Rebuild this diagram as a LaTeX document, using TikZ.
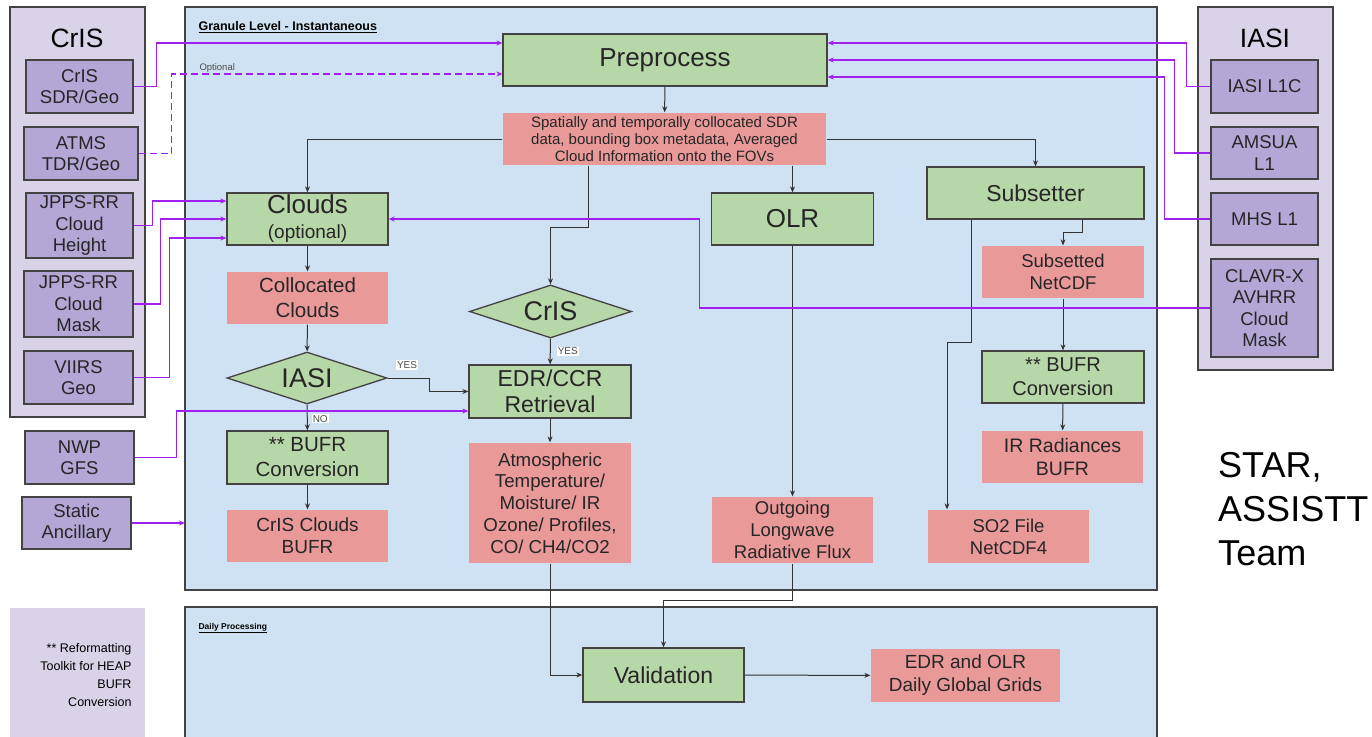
\documentclass[tikz,border=0pt]{standalone}
\usepackage{fontspec}
\setmainfont{Liberation Sans}
\usetikzlibrary{calc,shapes.geometric,arrows.meta}

\definecolor{panelpurple}{HTML}{D9D2E9}
\definecolor{srcpurple}{HTML}{B4A7D6}
\definecolor{granblue}{HTML}{CFE2F3}
\definecolor{procgreen}{HTML}{B6D7A8}
\definecolor{outpink}{HTML}{EA9999}
\definecolor{edgegray}{HTML}{434343}
\definecolor{feedpurple}{HTML}{A020F0}

\begin{document}
\begin{tikzpicture}[x=1pt, y=-1pt,
        plainbox/.style={draw=edgegray, line width=1.3pt, inner sep=1pt, align=center, text=black!85},
        wh/.style 2 args={minimum width=#1pt, minimum height=#2pt},
        srcbox/.style={plainbox, fill=srcpurple, font=\fontsize{18.5}{21.5}\selectfont},
        procbox/.style={plainbox, fill=procgreen, font=\fontsize{20.5}{25}\selectfont},
        outbox/.style={plainbox, draw=none, fill=outpink, font=\fontsize{18.5}{22}\selectfont},
        decision/.style={plainbox, diamond, aspect=3, fill=procgreen, inner sep=0pt, font=\fontsize{27}{30}\selectfont},
        panel/.style={draw=edgegray, line width=1.3pt},
        flow/.style={draw=black!80, line width=1pt, -{Stealth[length=6pt,width=5pt]}},
        feed/.style={draw=feedpurple, line width=1.4pt, -{Stealth[length=6pt,width=5pt]}},
        answer/.style={fill=white, inner sep=1pt, font=\fontsize{10}{11}\selectfont, text=black!70}]
        \useasboundingbox (0,0) rectangle (1372,736);

        % panels
        \draw[panel, fill=panelpurple] (10,7) rectangle (145,417);
        \draw[panel, fill=panelpurple] (1198,7) rectangle (1333,370);
        \draw[panel, fill=granblue] (185,7) rectangle (1157,590);
        \draw[panel, fill=granblue] (185,607) rectangle (1157,760);
        \fill[panelpurple] (10,608) rectangle (145,745);

        \node[font=\fontsize{26.5}{30}\selectfont] (crisT) at (77,38) {CrIS};
        \node[font=\fontsize{26.5}{30}\selectfont] (iasiT) at (1265,38) {IASI};
        \node[anchor=west, font=\bfseries\fontsize{12.5}{14}\selectfont] (granT) at (195,27) {\underline{Granule Level - Instantaneous}};
        \node[anchor=west, font=\bfseries\fontsize{8.5}{10}\selectfont] (dailyT) at (195,628) {\underline{Daily Processing}};
        \node[anchor=west, font=\fontsize{9.5}{10}\selectfont, text=black!70] (optT) at (196,68) {Optional};
        \node[anchor=east, align=right, font=\fontsize{12.5}{18}\selectfont] (note) at (135,675) {** Reformatting\\Toolkit for HEAP\\BUFR\\Conversion};
        \node[anchor=north west, inner sep=0pt, align=left, font=\fontsize{36}{44}\selectfont] (team) at (1218,452) {STAR,\\ASSISTT\\Team};

        % inputs
        \node[srcbox, wh={107}{53}] (sdr) at (79.5,86.5) {CrIS\\SDR/Geo};
        \node[srcbox, wh={114}{53}] (atms) at (81,153.5) {ATMS\\TDR/Geo};
        \node[srcbox, wh={107}{65}] (jhgt) at (79.5,225.5) {JPPS-RR\\Cloud\\Height};
        \node[srcbox, wh={109}{66}] (jmask) at (78.5,304) {JPPS-RR\\Cloud\\Mask};
        \node[srcbox, wh={109}{53}] (viirs) at (78.5,377.5) {VIIRS\\Geo};
        \node[srcbox, wh={109}{53}] (nwp) at (79.5,457.5) {NWP\\GFS};
        \node[srcbox, wh={109}{52}] (static) at (76.5,523) {Static\\Ancillary};
        \node[srcbox, wh={107}{53}] (l1c) at (1264.5,86.5) {IASI L1C};
        \node[srcbox, wh={107}{52}] (amsua) at (1264.5,153) {AMSUA\\L1};
        \node[srcbox, wh={107}{52}] (mhs) at (1264.5,219) {MHS L1};
        \node[srcbox, wh={107}{98}] (clavr) at (1264.5,308) {CLAVR-X\\AVHRR\\Cloud\\Mask};
        \coordinate (gleft) at (185,523);

        % granule level
        \node[procbox, wh={324}{52}, font=\fontsize{26}{28}\selectfont] (prep) at (665,60) {Preprocess};
        \node[outbox, wh={323}{52}, font=\fontsize{15}{17}\selectfont] (spat) at (664.5,139) {Spatially and temporally collocated SDR\\data, bounding box metadata, Averaged\\Cloud Information onto the FOVs};
        \node[procbox, wh={161}{52}] (clouds) at (307.5,219) {{\fontsize{26}{26}\selectfont Clouds}\\{\fontsize{19}{21}\selectfont (optional)}};
        \node[outbox, wh={161}{52}, font=\fontsize{20.5}{25}\selectfont] (coll) at (307.5,298) {Collocated\\Clouds};
        \node[decision, minimum width=160pt, minimum height=52pt] (iasiD) at (307,378) {IASI};
        \node[procbox, wh={161}{53}] (bufrL) at (307.5,457.5) {** BUFR\\Conversion};
        \node[outbox, wh={161}{52}, font=\fontsize{19}{22}\selectfont] (crisbufr) at (307.5,536) {CrIS Clouds\\BUFR};
        \node[decision, minimum width=162pt, minimum height=53pt] (crisD) at (550.5,311.5) {CrIS};
        \node[procbox, wh={162}{53}, font=\fontsize{23}{26}\selectfont] (edr) at (550,391.5) {EDR/CCR\\Retrieval};
        \node[outbox, wh={162}{120}, font=\fontsize{18.7}{21.7}\selectfont] (atmo) at (550,503) {Atmospheric\\Temperature/\\Moisture/ IR\\Ozone/ Profiles,\\CO/ CH4/CO2};
        \node[procbox, wh={162}{52}, font=\fontsize{26}{28}\selectfont] (olr) at (792.5,219) {OLR};
        \node[outbox, wh={161}{66}] (outg) at (792.5,530) {Outgoing\\Longwave\\Radiative Flux};
        \node[procbox, wh={217}{52}, font=\fontsize{23}{26}\selectfont] (subs) at (1035.5,193) {Subsetter};
        \node[outbox, wh={162}{52}] (subnc) at (1063,272) {Subsetted\\NetCDF};
        \node[procbox, wh={162}{52}, font=\fontsize{20}{24}\selectfont] (bufrR) at (1063,377) {** BUFR\\Conversion};
        \node[outbox, wh={161}{52}, font=\fontsize{19.5}{22.5}\selectfont] (irrad) at (1062.5,457) {IR Radiances\\BUFR};
        \node[outbox, wh={161}{53}] (so2) at (1008.5,536.5) {SO2 File\\NetCDF4};

        % daily processing
        \node[procbox, wh={161}{54}, font=\fontsize{23}{26}\selectfont] (valid) at (663.5,675) {Validation};
        \node[outbox, wh={189}{53}, font=\fontsize{19}{23}\selectfont] (grids) at (965.5,675.5) {EDR and OLR\\Daily Global Grids};

        \draw[flow] (prep) -- (spat);
        \draw[flow] (spat.west) -| (clouds.north);
        \draw[flow] (spat.east) -| (subs.north);
        \draw[flow] (spat.south -| olr.north) -- (olr.north);
        \draw[flow] ($(spat.south)+(-76.5,0)$) -- ++(0,62) -| (crisD.north);
        \draw[flow] (clouds) -- (coll);
        \draw[flow] (coll) -- (iasiD);
        \draw[flow] (iasiD) -- node[answer, pos=0.55, right=4pt] (noT) {NO} (bufrL);
        \draw[flow] (iasiD.east) -- ++(42,0) |- (edr.west);
        \node[answer] (yesA) at (407,365) {YES};
        \draw[flow] (crisD) -- node[answer, right=6pt] (yesB) {YES} (edr);
        \draw[flow] (edr) -- (atmo);
        \draw[flow] (bufrL) -- (crisbufr);
        \draw[flow] (olr) -- (outg);
        \draw[flow] ($(subs.south)+(46.5,0)$) -- ++(0,13) -| (subnc.north);
        \draw[flow] ($(subs.south)+(-64.5,0)$) -- ++(0,123) -- ++(-24,0) -- ($(so2.north)+(-61.5,0)$);
        \draw[flow] (subnc) -- (bufrR);
        \draw[flow] (bufrR) -- (irrad);
        \draw[flow] (atmo.south) |- (valid.west);
        \draw[flow] (outg.south) -- ++(0,37) -| (valid.north);
        \draw[flow] (valid) -- (grids);

        \draw[feed] (sdr.east) -- ++(23,0) |- ($(prep.west)+(0,-17)$);
        \draw[feed, dash pattern=on 7pt off 4pt] (atms.east) -- ++(33,0) |- ($(prep.west)+(0,14)$);
        \draw[feed] (jhgt.east) -- ++(19,0) |- ($(clouds.west)+(0,-18)$);
        \draw[feed] (jmask.east) -- ++(27,0) |- (clouds.west);
        \draw[feed] (viirs.east) -- ++(36,0) |- ($(clouds.west)+(0,19)$);
        \draw[feed] (nwp.east) -- ++(42,0) |- ($(edr.west)+(0,19.5)$);
        \draw[feed] (static.east) -- (gleft);
        \draw[feed] (l1c.west) -- ++(-24,0) |- ($(prep.east)+(0,-17)$);
        \draw[feed] (amsua.west) -- ++(-36,0) |- (prep.east);
        \draw[feed] (mhs.west) -- ++(-46,0) |- ($(prep.east)+(0,17)$);
        \draw[feed] (clavr.west) -- ++(-511,0) |- (clouds.east);
    \end{tikzpicture}
\end{document}
